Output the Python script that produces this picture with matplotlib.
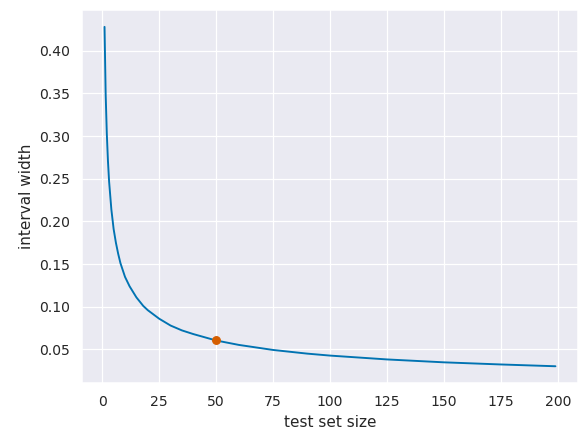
import matplotlib
matplotlib.use("Agg")
import matplotlib.pyplot as plt
import seaborn as sns

sns.set_theme(style="darkgrid", palette="colorblind")

n_values = [1, 1.5, 2, 2.5, 3, 4, 5, 6, 7, 8, 9, 10, 12, 15, 18, 20, 25, 30, 35, 40, 50, 60, 75, 90, 100, 125, 150, 175, 199]
widths = [0.428, 0.349, 0.303, 0.271, 0.247, 0.214, 0.191, 0.175, 0.162, 0.151, 0.143, 0.135, 0.124, 0.111, 0.101,
          0.096, 0.086, 0.078, 0.0723, 0.068, 0.0605, 0.0553, 0.0494, 0.0451, 0.0428, 0.0383, 0.0349, 0.0324, 0.0303]
marker_n = [50]
marker_w = [0.0605]

fig, ax = plt.subplots(figsize=(6.4, 4.8), dpi=91.5)
pal = sns.color_palette("colorblind")
ax.plot(n_values, widths, color=pal[0])
ax.plot(marker_n, marker_w, "o", color=pal[3])
ax.set_xlabel("test set size", fontsize=12)
ax.set_ylabel("interval width", fontsize=12)
ax.tick_params(labelsize=11)
fig.subplots_adjust(left=0.14, right=0.987, top=0.977, bottom=0.127)
fig.savefig("out.png")
